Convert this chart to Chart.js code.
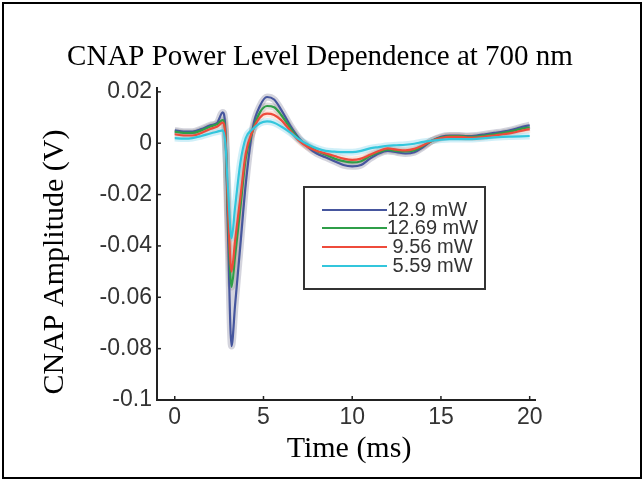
<!DOCTYPE html>
<html>
<head>
<meta charset="utf-8">
<script src="https://cdn.jsdelivr.net/npm/chart.js@4"></script>
<style>
  html, body { margin: 0; padding: 0; background: #fff; }
  #wrap { position: relative; width: 644px; height: 481px; }
</style>
</head>
<body>
<div id="wrap"><canvas id="chart" width="644" height="481"></canvas></div>
<script>
// time axis (ms)
const times = [0, 0.5, 1, 1.5, 2, 2.4, 2.7, 2.85, 3.0, 3.2, 3.4, 3.7, 4.0, 4.4, 4.8, 5.2, 5.6, 6.0, 6.5, 7,
  7.5, 8, 8.5, 9, 9.5, 10, 10.5, 11, 11.5, 12, 12.5, 13, 13.5, 14, 14.5, 15, 15.5, 16, 16.5, 17,
  17.5, 18, 18.5, 19, 19.5, 20]

// CNAP amplitude (V) per power level
const p129 = [0.005, 0.0045, 0.0045, 0.0055, 0.007, 0.008, 0.012, 0.006, -0.035, -0.079, -0.063, -0.0395, -0.016, 0.006, 0.0145, 0.018, 0.017, 0.013, 0.007, 0.002,
  -0.0015, -0.004, -0.0055, -0.007, -0.0085, -0.009, -0.0085, -0.006, -0.004, -0.003, -0.0035, -0.004, -0.0035, -0.0015, 0.001, 0.0025, 0.003, 0.003, 0.0028, 0.003,
  0.0035, 0.004, 0.0045, 0.0052, 0.0062, 0.007]
const p1269 = [0.0045, 0.004, 0.004, 0.005, 0.0065, 0.0075, 0.009, 0.004, -0.028, -0.056, -0.044, -0.025, -0.006, 0.005, 0.012, 0.0145, 0.014, 0.011, 0.006, 0.0015,
  -0.001, -0.003, -0.0045, -0.006, -0.007, -0.0075, -0.007, -0.005, -0.0035, -0.0025, -0.003, -0.0032, -0.0028, -0.001, 0.001, 0.0022, 0.0028, 0.0028, 0.0025, 0.0026,
  0.003, 0.0035, 0.004, 0.0047, 0.0056, 0.0062]
const p956 = [0.0035, 0.003, 0.003, 0.004, 0.0055, 0.0065, 0.008, 0.003, -0.025, -0.050, -0.038, -0.021, -0.004, 0.005, 0.010, 0.0115, 0.011, 0.009, 0.005, 0.001,
  -0.0015, -0.003, -0.004, -0.005, -0.006, -0.0065, -0.006, -0.0045, -0.003, -0.002, -0.0025, -0.0028, -0.0022, -0.0008, 0.001, 0.002, 0.0025, 0.0025, 0.0022, 0.0022,
  0.0026, 0.003, 0.0035, 0.004, 0.0048, 0.0055]
const p559 = [0.002, 0.0018, 0.002, 0.0028, 0.0038, 0.0045, 0.005, 0.0, -0.018, -0.037, -0.025, -0.0075, 0.002, 0.0055, 0.0078, 0.0085, 0.008, 0.0065, 0.0042, 0.0015,
  -0.0005, -0.002, -0.003, -0.0033, -0.0035, -0.0035, -0.003, -0.002, -0.0015, -0.001, -0.0008, -0.0006, -0.0002, 0.0005, 0.001, 0.0014, 0.0016, 0.0016, 0.0016, 0.0017,
  0.002, 0.0023, 0.0025, 0.0026, 0.0027, 0.0028]

const seriesNames = ['12.9 mW', '12.69 mW', ' 9.56 mW', ' 5.59 mW']
const seriesColors = ['#46569e', '#2f9e48', '#ee4b3b', '#33c6dc']
const bandColors = ['rgba(120,120,150,0.32)', 'rgba(140,140,140,0.30)', 'rgba(240,150,120,0.25)', 'rgba(120,210,235,0.35)']

const xTicks = [0, 5, 10, 15, 20]
const yTicks = [0.02, 0, -0.02, -0.04, -0.06, -0.08, -0.1]
const yTickLabels = ['0.02', '0', '-0.02', '-0.04', '-0.06', '-0.08', '-0.1']

const allSeries = [p129, p1269, p956, p559]
const toPoints = vals => vals.map((v, i) => ({ x: times[i], y: v }))

const datasets = []
allSeries.forEach((vals, i) => {
  // soft band under each trace
  datasets.push({
    label: seriesNames[i],
    data: toPoints(vals),
    borderColor: bandColors[i],
    borderWidth: 7,
    pointRadius: 0,
    cubicInterpolationMode: 'monotone',
    order: 10 + (3 - i)
  })
  datasets.push({
    label: seriesNames[i],
    data: toPoints(vals),
    borderColor: seriesColors[i],
    borderWidth: 2.2,
    pointRadius: 0,
    cubicInterpolationMode: 'monotone',
    order: 3 - i
  })
})

const extras = {
  id: 'extras',
  afterDraw(chart) {
    const { ctx, chartArea, scales } = chart
    const x = scales.x, y = scales.y
    ctx.save()
    // inward tick marks
    ctx.strokeStyle = '#222'
    ctx.lineWidth = 1.5
    xTicks.forEach(v => {
      const px = x.getPixelForValue(v)
      ctx.beginPath(); ctx.moveTo(px, chartArea.bottom); ctx.lineTo(px, chartArea.bottom - 4); ctx.stroke()
    })
    yTicks.forEach(v => {
      const py = y.getPixelForValue(v)
      ctx.beginPath(); ctx.moveTo(chartArea.left, py); ctx.lineTo(chartArea.left + 4, py); ctx.stroke()
    })

    // titles
    ctx.fillStyle = '#000'
    ctx.textAlign = 'center'
    ctx.textBaseline = 'middle'
    ctx.font = '29px "Liberation Serif"'
    ctx.fillText('CNAP Power Level Dependence at 700 nm', 320, 57)
    ctx.font = '30px "Liberation Serif"'
    ctx.fillText('Time (ms)', 349, 449)
    ctx.save()
    ctx.translate(55, 262)
    ctx.rotate(-Math.PI / 2)
    ctx.fillText('CNAP Amplitude (V)', 0, 0)
    ctx.restore()

    // legend
    const bx = 304, by = 187, bw = 181, bh = 102
    ctx.fillStyle = '#fff'
    ctx.fillRect(bx, by, bw, bh)
    ctx.strokeStyle = '#333'
    ctx.lineWidth = 2
    ctx.strokeRect(bx, by, bw, bh)
    ctx.font = '20px "Liberation Sans"'
    ctx.textAlign = 'left'
    ctx.fillStyle = '#333'
    const rows = [210, 228, 247, 266]
    seriesNames.forEach((name, i) => {
      ctx.strokeStyle = seriesColors[i]
      ctx.lineWidth = 2
      ctx.beginPath(); ctx.moveTo(322, rows[i]); ctx.lineTo(387, rows[i]); ctx.stroke()
      ctx.fillText(name, 387, rows[i])
    })

    // outer frame
    ctx.strokeStyle = '#000'
    ctx.lineWidth = 2
    ctx.strokeRect(3, 3, 638, 475)
    ctx.restore()
  }
}

new Chart(document.getElementById('chart'), {
  type: 'line',
  data: { datasets },
  options: {
    responsive: false,
    animation: false,
    layout: { padding: { left: 0, top: 88, right: 109, bottom: 0 } },
    plugins: {
      legend: { display: false },
      tooltip: { enabled: false },
      title: { display: false }
    },
    scales: {
      x: {
        type: 'linear',
        min: -1.0,
        max: 20.3,
        afterFit: s => { s.height = 81 },
        afterBuildTicks: s => { s.ticks = xTicks.map(v => ({ value: v })) },
        grid: { display: false, drawTicks: false },
        border: { display: true, color: '#222', width: 2 },
        ticks: {
          padding: 4,
          color: '#333',
          font: { family: 'Liberation Sans', size: 23 },
          maxRotation: 0
        }
      },
      y: {
        type: 'linear',
        min: -0.1,
        max: 0.0215,
        afterFit: s => { s.width = 157 },
        afterBuildTicks: s => { s.ticks = yTicks.map(v => ({ value: v })) },
        grid: { display: false, drawTicks: false },
        border: { display: true, color: '#222', width: 2 },
        ticks: {
          padding: 5,
          color: '#333',
          font: { family: 'Liberation Sans', size: 23 },
          callback: v => yTickLabels[yTicks.indexOf(v)] ?? ''
        }
      }
    }
  },
  plugins: [extras]
})
</script>
</body>
</html>
